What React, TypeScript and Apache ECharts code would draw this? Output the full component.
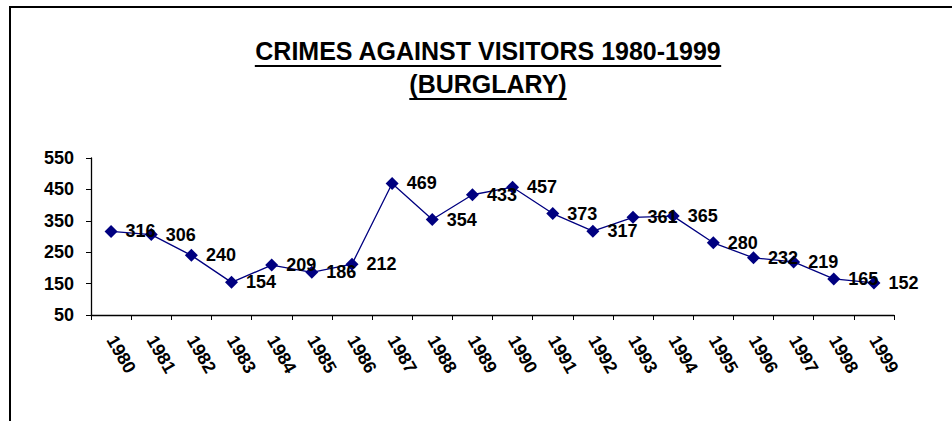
import React, { useEffect, useRef } from "react";
import * as echarts from "echarts";

const years = ["1980","1981","1982","1983","1984","1985","1986","1987","1988","1989","1990","1991","1992","1993","1994","1995","1996","1997","1998","1999"];
const burglary = [316, 306, 240, 154, 209, 186, 212, 469, 354, 433, 457, 373, 317, 361, 365, 280, 232, 219, 165, 152];
const titleLines = ["CRIMES AGAINST VISITORS 1980-1999", "(BURGLARY)"];
const yMin = 50;
const yMax = 550;
const yStep = 100;

const FONT = "'Liberation Sans', Arial, sans-serif";

function measure(text: string, size: number): number {
  const c = document.createElement("canvas");
  const ctx = c.getContext("2d");
  if (!ctx) return text.length * size * 0.6;
  ctx.font = `bold ${size}px 'Liberation Sans', Arial, sans-serif`;
  return ctx.measureText(text).width;
}

export default function App() {
  const ref = useRef<HTMLDivElement>(null);
  useEffect(() => {
    if (!ref.current) return;
    const chart = echarts.init(ref.current, null, { renderer: "svg" });
    const titleSize = 25;
    const cx = 488;
    const line1Y = 63;
    const line2Y = 96;
    const w1 = measure(titleLines[0], titleSize);
    const w2 = measure(titleLines[1], titleSize);
    chart.setOption({
      animation: false,
      backgroundColor: "#ffffff",
      grid: { left: 91, right: 58, top: 158, bottom: 106, containLabel: false },
      xAxis: {
        type: "category",
        data: years,
        boundaryGap: true,
        axisLine: { show: true, lineStyle: { color: "#000", width: 1.3 } },
        axisTick: { show: true, length: 5, interval: 0, lineStyle: { color: "#000" } },
        axisLabel: {
          interval: 0,
          rotate: -60,
          margin: 22,
          fontSize: 18,
          fontWeight: "bold",
          color: "#000",
          fontFamily: FONT,
        },
        splitLine: { show: false },
      },
      yAxis: {
        type: "value",
        min: yMin,
        max: yMax,
        interval: yStep,
        axisLine: { show: true, lineStyle: { color: "#000", width: 1.3 } },
        axisTick: { show: true, length: 5, lineStyle: { color: "#000" } },
        axisLabel: {
          margin: 17,
          fontSize: 18,
          fontWeight: "bold",
          color: "#000",
          fontFamily: FONT,
        },
        splitLine: { show: false },
      },
      series: [
        {
          type: "line",
          data: burglary,
          symbol: "diamond",
          symbolSize: 13,
          itemStyle: { color: "#000080" },
          lineStyle: { color: "#000080", width: 1.3 },
          label: {
            show: true,
            position: "right",
            distance: 8,
            fontSize: 18,
            fontWeight: "bold",
            color: "#000",
            fontFamily: FONT,
          },
        },
      ],
      graphic: [
        {
          type: "rect",
          shape: { x: 10, y: 7, width: 1200, height: 800 },
          style: { fill: "none", stroke: "#000", lineWidth: 2 },
          silent: true,
        },
        {
          type: "text",
          x: cx,
          y: line1Y,
          style: {
            text: titleLines[0],
            fontSize: titleSize,
            fontWeight: "bold",
            fontFamily: FONT,
            fill: "#000",
            align: "center",
            verticalAlign: "bottom",
          },
        },
        {
          type: "line",
          shape: { x1: cx - w1 / 2, y1: line1Y + 3, x2: cx + w1 / 2, y2: line1Y + 3 },
          style: { stroke: "#000", lineWidth: 2 },
        },
        {
          type: "text",
          x: cx,
          y: line2Y,
          style: {
            text: titleLines[1],
            fontSize: titleSize,
            fontWeight: "bold",
            fontFamily: FONT,
            fill: "#000",
            align: "center",
            verticalAlign: "bottom",
          },
        },
        {
          type: "line",
          shape: { x1: cx - w2 / 2, y1: line2Y + 3, x2: cx + w2 / 2, y2: line2Y + 3 },
          style: { stroke: "#000", lineWidth: 2 },
        },
      ],
    });
    return () => chart.dispose();
  }, []);
  return (
    <div
      ref={ref}
      style={{ position: "absolute", left: 0, top: 0, width: 952, height: 421, background: "#fff" }}
    />
  );
}
